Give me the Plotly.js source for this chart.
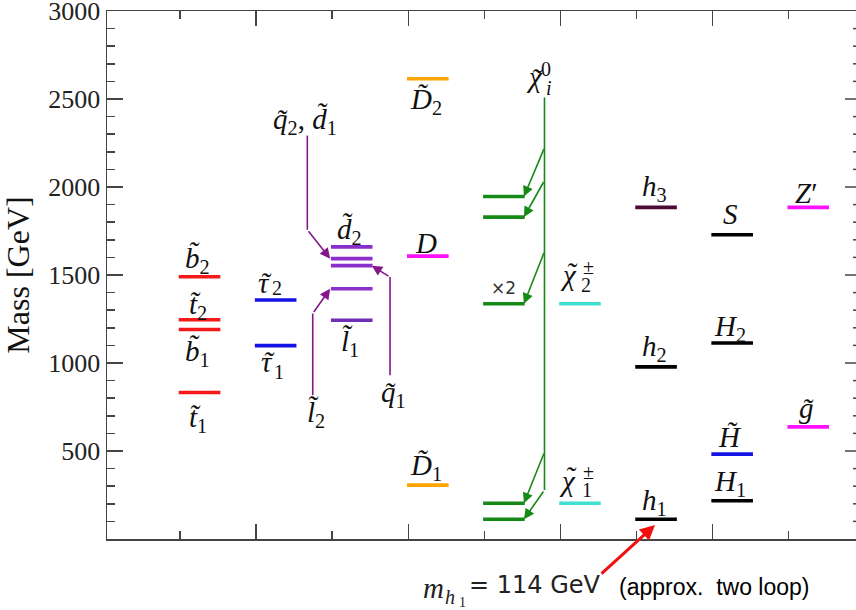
<!DOCTYPE html>
<html><head><meta charset="utf-8">
<script src="https://cdn.plot.ly/plotly-3.0.1.min.js"></script>
<style>
html,body{margin:0;padding:0;overflow:hidden;background:#fff;width:856px;height:610px}
#chart{width:870px;height:610px}
</style>
</head><body><div id="chart"></div>
<script>
// ---------------- DATA ----------------
// sector (column) of each mass level, mass [GeV], and label text
const levelCategory = [1,1,1,1, 2,2, 3,3,3,3,3, 4,4,4, 5,5,5,5,5, 6,6, 7,7,7, 8,8,8,8, 9,9];
const levelMass     = [1490,1246,1190,832, 1358,1099, 1660,1593,1553,1422,1243, 2615,1607,306,
                       1946,1829,1337,203,112, 1337,203, 1884,978,112, 1729,1114,482,217, 1884,637];
const levelLabel = [
  '<i>b\u0303</i><sub>2</sub>','<i>t\u0303</i><sub>2</sub>','<i>b\u0303</i><sub>1</sub>','<i>t\u0303</i><sub>1</sub>',
  '','',
  '<i>d\u0303</i><sub>2</sub>','','','','<i>l\u0303</i><sub>1</sub>',
  '<i>D\u0303</i><sub>2</sub>','<i>D</i>','<i>D\u0303</i><sub>1</sub>',
  '','','','','',
  '','',
  '<i>h</i><sub>3</sub>','<i>h</i><sub>2</sub>','<i>h</i><sub>1</sub>',
  '<i>S</i>','<i>H</i><sub>2</sub>','<i>H\u0303</i>','<i>H</i><sub>1</sub>',
  '<i>Z</i>\u2032','<i>g\u0303</i>'
];
// Greek labels with tilde (built from pieces): level, letter, superscript, subscript
const greekLevel  = [4, 5, 19, 20];
const greekLetter = ['\u03c4','\u03c4','\u03c7','\u03c7'];
const greekSup    = ['', '', '\u00b1', '\u00b1'];
const greekSub    = ['2', '1', '2', '1'];
// neutralino trunk (x, top mass, bottom mass) and branches (start mass -> level index)
const trunkX = 5.79, trunkTop = 2508, trunkBottom = 278;
const trunkLabel = {letter:'\u03c7', sup:'0', sub:'i'};
const branchStartMass = [2224, 2037, 1634, 494, 278];
const branchTarget    = [14, 15, 16, 17, 18];
const multLabel = '\u00d72'; const multLevel = 16;
// purple pointer arrows: label, tail point, bend point, target level, end of level
const ptrLabel  = ['<i>q\u0303</i><sub>2</sub>, <i>d\u0303</i><sub>1</sub>','<i>q\u0303</i><sub>1</sub>','<i>l\u0303</i><sub>2</sub>'];
const ptrTailX  = [2.673, 3.76, 2.744];
const ptrTailM  = [2292, 930, 817];
const ptrBendM  = [1757, 1488, 1281];
const ptrTarget = [7, 8, 9];
const ptrSide   = ['left','right','left'];
// note about h1
const noteHeadX = 7.243, noteHeadM = 80, noteTailX = 6.52, noteTailM = -205;
const yTicks = [500,1000,1500,2000,2500,3000];
const yMinorStep = 100;

// ---------------- STYLE ----------------
const RED='#f41a1a', BLUE='#1414e6', PURP='#8a2ecc', PARR='#84188a', ORG='#ffa500', MAG='#ff10ff',
      GRN='#168a16', CYAN='#40e0d0', H3C='#4d0a33', BLK='#000000', AX='#444';
const levelColor = [RED,RED,RED,RED, BLUE,BLUE, PURP,PURP,PURP,PURP,'#6f2fb5', ORG,MAG,ORG,
                    GRN,GRN,GRN,GRN,GRN, CYAN,CYAN, H3C,BLK,BLK, BLK,BLK,BLUE,BLK, MAG,MAG];
const labelDY = [17,14,-23,-26, 0,0, 16,0,0,0,-23, -22,13,18, 0,0,0,0,0, 0,0, 19,19,17, 21,15,17,18, 14,19];
// piece offsets [letter dx,dy, tilde dx,dy, sup dx,dy, sub dx,dy] in px
const greekPieces = [
  [-12,16.8, -9.5,16.8, 0,0, 1.5,12],
  [-9,-16.3, -6.5,-16.3, 0,0, 3,-26.7],
  [-11,28.5, -8,30.5, 8.5,36.7, 6.5,18.2],
  [-12,22.1, -9,26, 8.5,31.3, 7.5,13.3]
];
const trunkPieces = [-10,20.4, -7,19, 1.5,28.6, 4.5,9.6];
const X0 = -0.017, X1 = 0.53;   // level segment extent relative to column
const SERIF = 'Liberation Serif, Times New Roman, serif';
const LBL = 29, SCR = 20, TXT = '#111';
const PLOT_W = 754;

const traces = levelMass.map((m, i) => ({
  type:'scatter', mode:'lines', hoverinfo:'skip', showlegend:false,
  x:[levelCategory[i]+X0, levelCategory[i]+X1], y:[m, m],
  line:{color:levelColor[i], width:3.6}
}));

const ann = [];
const shapes = [];
const mid = c => c + (X0+X1)/2;
const txt = (x, y, text, xs, ys, size, extra) => ann.push(Object.assign({x, y, xref:'x', yref:'y', text, showarrow:false,
  xshift:xs, yshift:ys, xanchor:'center', yanchor:'middle', font:{family:SERIF, size, color:TXT}}, extra||{}));

levelLabel.forEach((t, i) => { if (t) txt(mid(levelCategory[i]), levelMass[i], t, -2, labelDY[i], LBL); });

function greek(x, y, p, letter, sup, sub, subItalic) {
  txt(x, y, '<i>'+letter+'</i>', p[0], p[1], LBL);
  txt(x, y, '<i>\u02dc</i>', p[2], p[3], LBL);
  if (sup) txt(x, y, sup, p[4], p[5], SCR);
  if (sub) txt(x, y, subItalic ? '<i>'+sub+'</i>' : sub, p[6], p[7], SCR);
}
greekLevel.forEach((L, k) => greek(mid(levelCategory[L]), levelMass[L], greekPieces[k], greekLetter[k], greekSup[k], greekSub[k], false));
greek(trunkX, trunkTop, trunkPieces, trunkLabel.letter, trunkLabel.sup, trunkLabel.sub, true);

// neutralino trunk + branches
shapes.push({type:'line', xref:'x', yref:'y', x0:trunkX, x1:trunkX, y0:trunkTop, y1:trunkBottom, line:{color:GRN, width:1.6}});
branchStartMass.forEach((m, k) => {
  const L = branchTarget[k];
  ann.push({x:levelCategory[L]+X1-0.01, y:levelMass[L], ax:trunkX, ay:m, xref:'x', yref:'y', axref:'x', ayref:'y',
    text:'', showarrow:true, arrowhead:2, arrowsize:1.3, arrowwidth:1.6, arrowcolor:GRN, standoff:0, startstandoff:0});
});
txt(mid(levelCategory[multLevel]), levelMass[multLevel], multLabel, 0, 16, 17,
  {font:{family:'DejaVu Sans, sans-serif', size:17, color:'#333'}});
// purple pointers
ptrLabel.forEach((t, k) => {
  shapes.push({type:'line', xref:'x', yref:'y', x0:ptrTailX[k], x1:ptrTailX[k], y0:ptrTailM[k], y1:ptrBendM[k], line:{color:PARR, width:1.6}});
  const L = ptrTarget[k];
  const tx = ptrSide[k]==='left' ? levelCategory[L]+X0-0.01 : levelCategory[L]+X1-0.01;
  ann.push({x:tx, y:levelMass[L], ax:ptrTailX[k], ay:ptrBendM[k], xref:'x', yref:'y', axref:'x', ayref:'y',
    text:'', showarrow:true, arrowhead:2, arrowsize:1.3, arrowwidth:1.6, arrowcolor:PARR, standoff:0, startstandoff:0});
  const up = ptrTailM[k] > ptrBendM[k];
  txt(ptrTailX[k], ptrTailM[k], t, k===0?-2:3, up ? 15 : -19, LBL);
});
// red note arrow
ann.push({x:noteHeadX, y:noteHeadM, ax:noteTailX, ay:noteTailM, xref:'x', yref:'y', axref:'x', ayref:'y',
  text:'', showarrow:true, arrowhead:2, arrowsize:1, arrowwidth:3, arrowcolor:'#f01010', standoff:0, startstandoff:0});
// bottom note text (paper coords from plot box 107..861 x 11..539)
const px = p => (p-107)/754, py = p => (539-p)/528;
const note = (x, y, text, anchor, font) => ann.push({xref:'paper', yref:'paper', x:px(x), y:py(y), text, showarrow:false,
  xanchor:anchor, yanchor:'middle', font});
note(433, 588, '<i>m</i>', 'center', {family:SERIF, size:29, color:'#222'});
note(450, 597, '<i>h</i>', 'center', {family:SERIF, size:20, color:'#222'});
note(462, 602, '1', 'center', {family:SERIF, size:14, color:'#222'});
note(467, 585, '= 114 GeV', 'left', {family:'DejaVu Sans, sans-serif', size:24, color:'#222'});
note(617, 587, '(approx.  two loop)', 'left', {family:'Liberation Sans, Arial, sans-serif', size:23, color:'#000'});

// right-hand (mirrored) y ticks, pointing inward from the right frame
for (let v = yMinorStep; v < 3000; v += yMinorStep) {
  const major = yTicks.includes(v);
  const len = major ? 16 : 8;
  shapes.push({type:'line', xref:'paper', yref:'y', x0:1, x1:1 - len/PLOT_W, y0:v, y1:v, line:{color:AX, width:1.5}});
}

const axisCommon = {showline:true, linecolor:AX, linewidth:1.5, ticks:'inside', tickcolor:AX,
  tickwidth:1.5, showgrid:false, zeroline:false, fixedrange:true};
const layout = {
  width:870, height:610, margin:{l:107, r:9, t:11, b:71}, paper_bgcolor:'#fff', plot_bgcolor:'#fff',
  showlegend:false,
  xaxis:Object.assign({}, axisCommon, {range:[0.04, 9.95], tick0:0, dtick:2, ticklen:15, showticklabels:false, mirror:'ticks',
    minor:{dtick:1, ticks:'inside', ticklen:8, tickcolor:AX, tickwidth:1.5, showgrid:false}}),
  yaxis:Object.assign({}, axisCommon, {range:[0, 3000], tickvals:yTicks, ticklen:16, mirror:true,
    ticklabeloverflow:'allow', tickfont:{family:SERIF, size:26, color:'#222'},
    minor:{dtick:yMinorStep, ticks:'inside', ticklen:8, tickcolor:AX, tickwidth:1.5, showgrid:false},
    title:{text:'Mass [GeV]', font:{family:SERIF, size:32, color:'#111'}, standoff:14}}),
  annotations:ann, shapes:shapes
};
Plotly.newPlot('chart', traces, layout, {staticPlot:true, displayModeBar:false});
</script></body></html>
